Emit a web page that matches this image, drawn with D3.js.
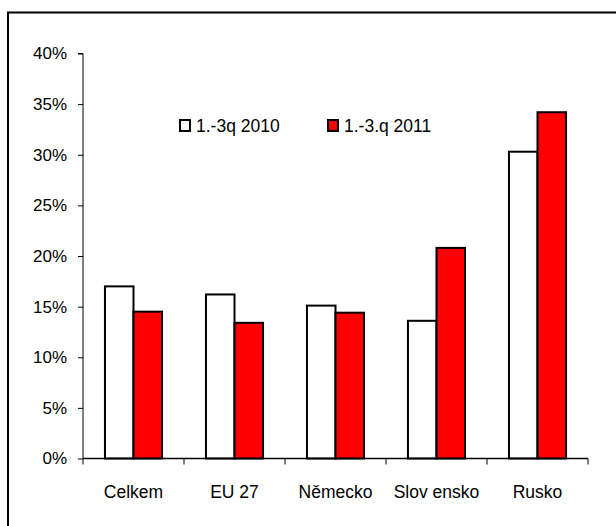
<!DOCTYPE html>
<html>
<head>
<meta charset="utf-8">
<script src="https://cdn.jsdelivr.net/npm/d3@7"></script>
<style>
  html, body { margin: 0; padding: 0; background: #fff; }
  svg { display: block; }
  text { font-family: "Liberation Sans", Arial, sans-serif; fill: #000; }
</style>
</head>
<body>
<svg id="chart" width="616" height="526"></svg>
<script>
const categories = ["Celkem", "EU 27", "Německo", "Slov ensko", "Rusko"];
const seriesNames = ["1.-3q 2010", "1.-3.q 2011"];
const values2010 = [0.170, 0.162, 0.151, 0.136, 0.303];
const values2011 = [0.145, 0.134, 0.144, 0.208, 0.342];
const seriesColors = ["#ffffff", "#ff0000"];
const yTicks = [0, 0.05, 0.10, 0.15, 0.20, 0.25, 0.30, 0.35, 0.40];

const svg = d3.select("#chart");

// outer frame (extends beyond right/bottom edge as in reference)
svg.append("rect")
  .attr("x", 8).attr("y", 12.5)
  .attr("width", 640).attr("height", 560)
  .attr("fill", "none").attr("stroke", "#000").attr("stroke-width", 2);

const plot = { left: 83, right: 588, top: 53.5, bottom: 458.5 };

const x = d3.scaleBand().domain(categories).range([plot.left, plot.right]).padding(0);
const y = d3.scaleLinear().domain([0, 0.40]).range([plot.bottom, plot.top]);

const groupW = x.bandwidth() * 0.565;
const xs = d3.scaleBand().domain(seriesNames)
  .range([(x.bandwidth() - groupW) / 2, (x.bandwidth() + groupW) / 2]).padding(0);

const data = categories.map((c, i) => ({ cat: c, vals: [values2010[i], values2011[i]] }));

// bars
const groups = svg.append("g").selectAll("g").data(data).join("g")
  .attr("transform", d => `translate(${x(d.cat)},0)`);
groups.selectAll("rect")
  .data(d => d.vals.map((v, j) => ({ s: seriesNames[j], v, j })))
  .join("rect")
  .attr("x", d => xs(d.s))
  .attr("y", d => y(d.v))
  .attr("width", xs.bandwidth())
  .attr("height", d => y(0) - y(d.v))
  .attr("fill", d => seriesColors[d.j])
  .attr("stroke", "#000")
  .attr("stroke-width", 2);

// y axis
const yAxis = d3.axisLeft(y).tickValues(yTicks).tickFormat(d3.format(".0%")).tickSize(5).tickPadding(11);
const gy = svg.append("g").attr("transform", `translate(${plot.left},0)`).call(yAxis);
gy.select(".domain").attr("stroke", "#000").attr("d", `M-5,${y(0.40)}H0V${y(0)}`);
gy.selectAll(".tick line").attr("stroke", "#000");
gy.selectAll(".tick text").style("font-size", "17px").style("font-family", "Liberation Sans, Arial, sans-serif").attr("fill", "#000");

// x axis line with ticks between categories
const gx = svg.append("g");
gx.append("line")
  .attr("x1", plot.left).attr("x2", plot.right)
  .attr("y1", y(0)).attr("y2", y(0))
  .attr("stroke", "#000").attr("stroke-width", 1.5);
const boundaries = categories.map(c => x(c)).concat([x.range()[1]]);
gx.selectAll("line.tk").data(boundaries).join("line")
  .attr("class", "tk")
  .attr("x1", d => d).attr("x2", d => d)
  .attr("y1", y(0)).attr("y2", y(0) + 6)
  .attr("stroke", "#000");
gx.selectAll("text").data(categories).join("text")
  .attr("x", d => x(d) + x.bandwidth() / 2)
  .attr("y", 498)
  .attr("text-anchor", "middle")
  .style("font-size", "17.5px")
  .text(d => d);

// legend
const legendX = [180, 328];
const lg = svg.append("g").selectAll("g").data(seriesNames).join("g")
  .attr("transform", (d, i) => `translate(${legendX[i]},120)`);
lg.append("rect")
  .attr("x", 0).attr("y", 0).attr("width", 10).attr("height", 11)
  .attr("fill", (d, i) => seriesColors[i])
  .attr("stroke", "#000").attr("stroke-width", 2);
lg.append("text")
  .attr("x", 16).attr("y", 12)
  .style("font-size", "17.5px")
  .text(d => d);
</script>
</body>
</html>
